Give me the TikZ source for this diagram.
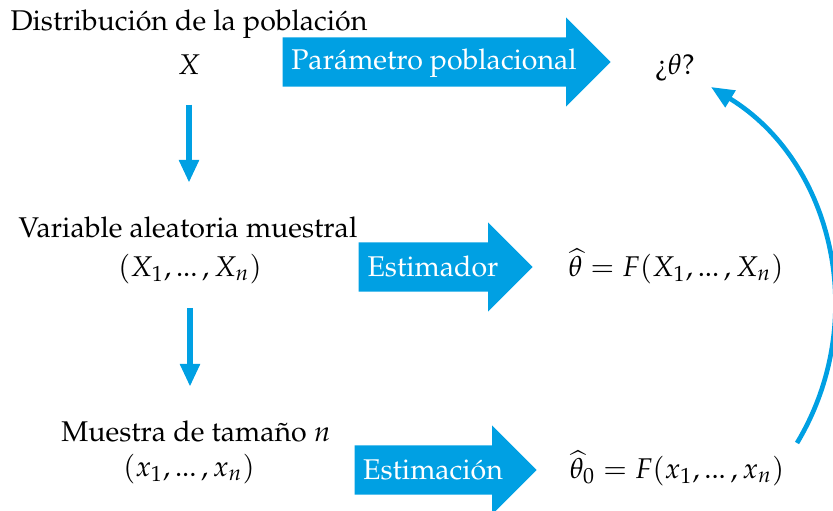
\documentclass[tikz,border=0pt]{standalone}
\usepackage[T1]{fontenc}
\usepackage{mathpazo}
\usetikzlibrary{arrows.meta,shapes.arrows}
\definecolor{azul}{RGB}{0,160,227}
\DeclareMathSizes{10.7}{10.7}{8.2}{6}
\newcommand{\puntos}{\mathinner{...}}

\begin{document}
\begin{tikzpicture}[x=0.375pt,y=0.375pt,
    texto/.style={inner sep=0pt,anchor=base,font=\fontsize{10.7}{13}\selectfont},
    blanco/.style={texto,text=white},
    flecha/.style={draw=azul,line width=2.5pt,-{Triangle[width=7.1pt,length=8.6pt]}},
    curva/.style={draw=azul,line width=1.75pt,-{Triangle[width=7.1pt,length=8.6pt]}},
    bigflecha/.style={single arrow,fill=azul,inner xsep=0pt,inner ysep=9pt,
        single arrow head extend=7.5pt,anchor=tail,minimum width=0pt}]

\useasboundingbox (0,0) rectangle (833,510);

% poblacion
\node[texto] (dist) at (189,480) {Distribución de la población};
\node[texto] (X) at (189,436) {$X$};
\node[bigflecha,minimum height=123pt] (par) at (282,448) {};
\node[blanco] (partxt) at (434,441) {Parámetro poblacional};
\node[texto] (theta) at (675,436) {?`$\theta$?};

% variable aleatoria
\node[texto] (var) at (188,273) {Variable aleatoria muestral};
\node[texto] (vecX) at (190,234) {$(X_1,\puntos,X_n)$};
\node[bigflecha,minimum height=65.25pt] (est) at (358,243) {};
\node[blanco] (esttxt) at (433,234) {Estimador};
\node[texto] (thetahat) at (676,234) {$\widehat{\theta}=F(X_1,\puntos,X_n)$};

% muestra
\node[texto] (muestra) at (196,69) {Muestra de tamaño $n$};
\node[texto] (vecx) at (189,34) {$(x_1,\puntos,x_n)$};
\node[bigflecha,minimum height=68.25pt] (estim) at (354,40) {};
\node[blanco] (estimtxt) at (433,31) {Estimación};
\node[texto] (thetacero) at (677,32) {$\widehat{\theta}_0=F(x_1,\puntos,x_n)$};

\draw[flecha,shorten <=11.25pt,shorten >=12.4pt] (X.south) -- (X.south |- var.north);
\draw[flecha,shorten <=9pt,shorten >=12.4pt] (vecX.south) -- (vecX.south |- muestra.north);

\coordinate (arcini) at (797,67);
\coordinate (arcfin) at (711,423);
\draw[curva] (arcini) to[out=59,in=-31.5] (arcfin);
\end{tikzpicture}
\end{document}
